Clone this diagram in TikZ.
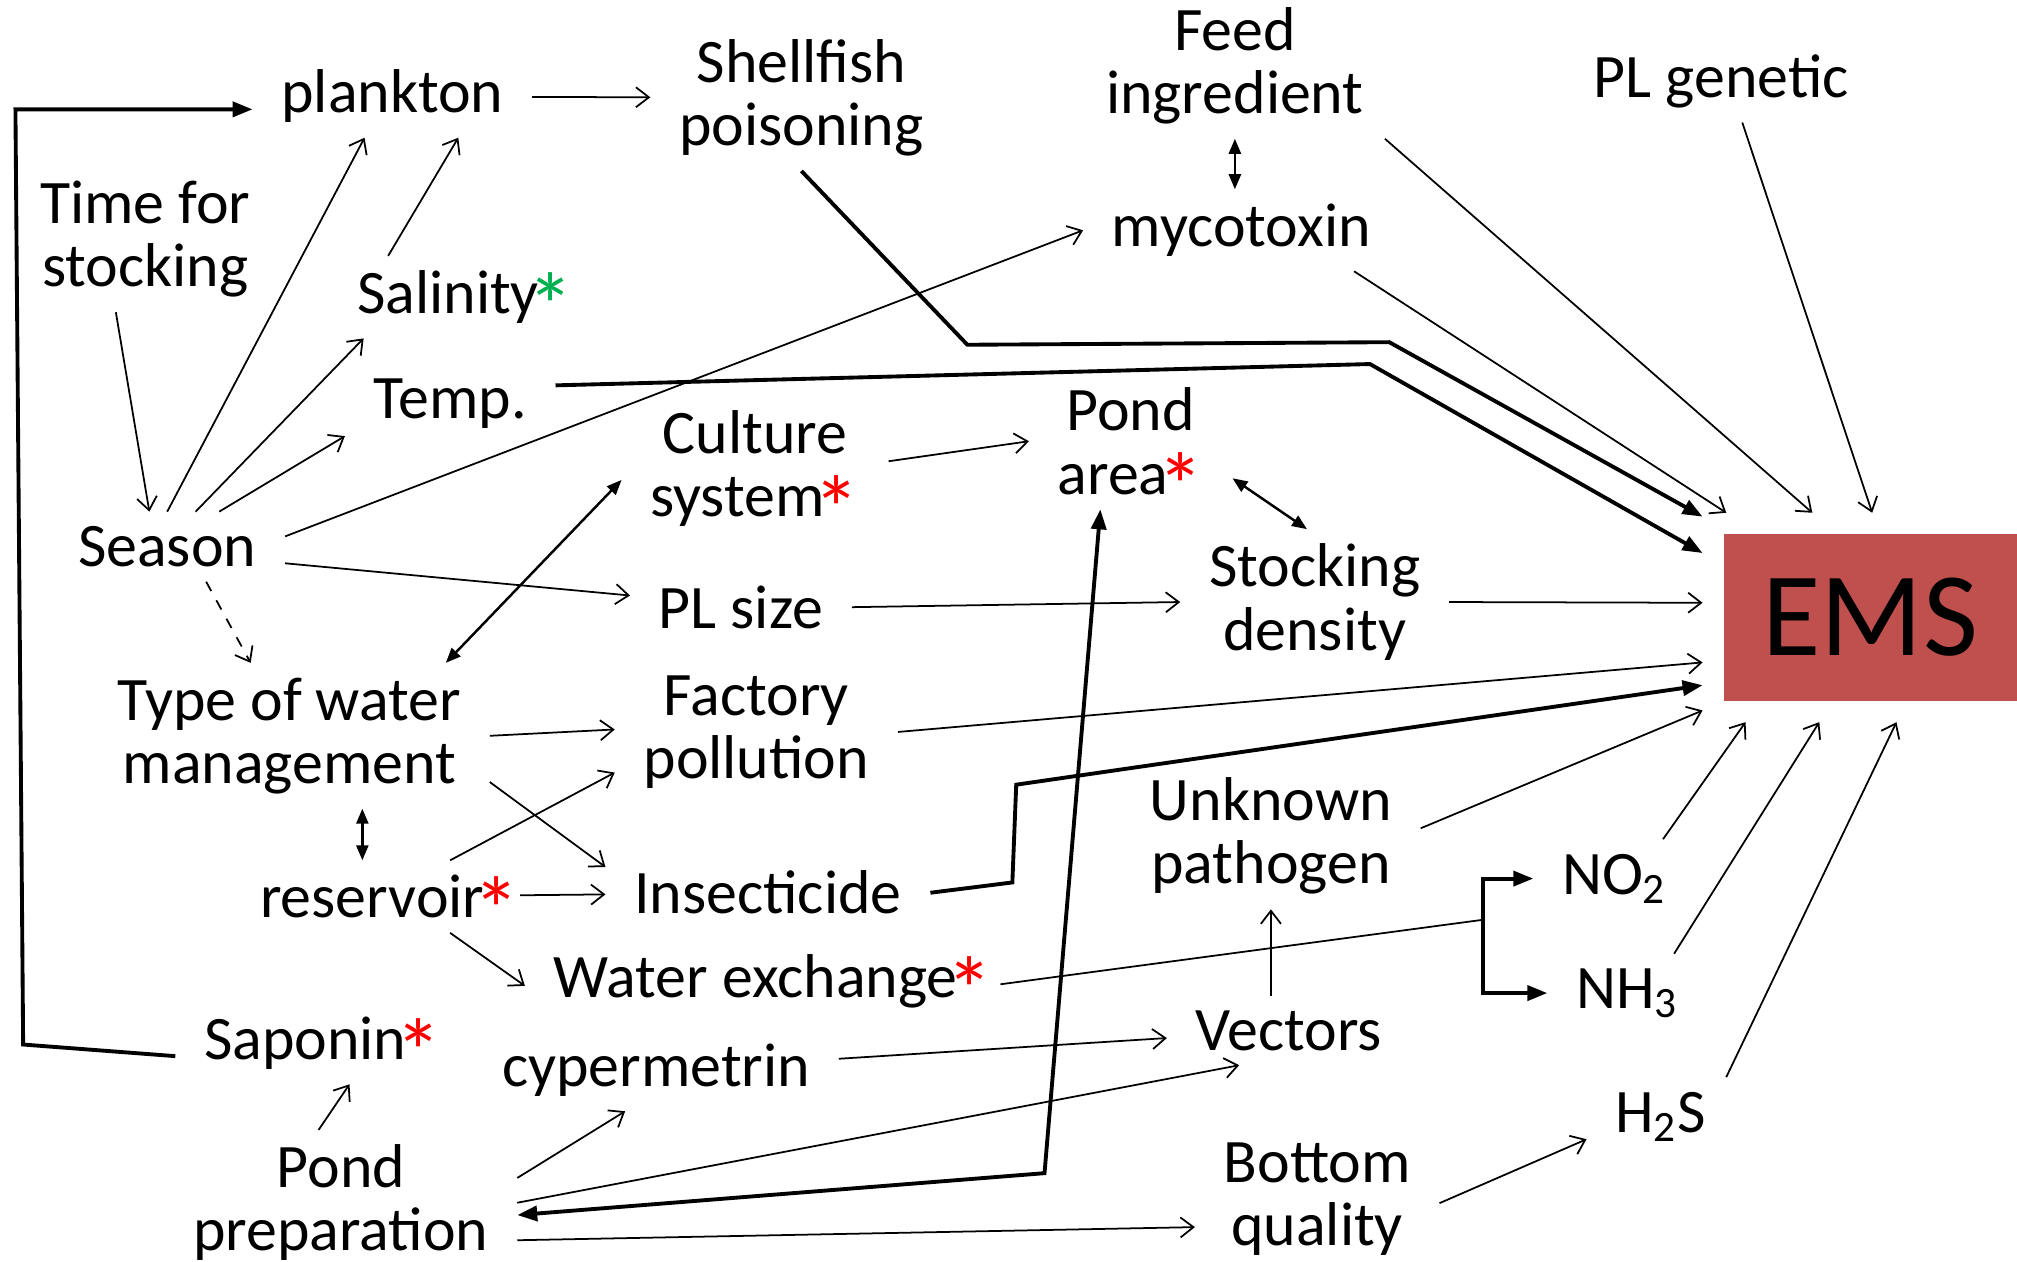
\documentclass[tikz,border=0pt]{standalone}
\usepackage{fontspec}
\usepackage{graphicx}
\setmainfont{Carlito}
\usetikzlibrary{arrows.meta,calc}
\definecolor{emsred}{HTML}{C0504D}
\definecolor{stargreen}{HTML}{00B050}
\newcommand{\starmark}{\kern-0.18em\raisebox{-0.4em}[0pt][0pt]{\scalebox{1.5}{*}}}
\newcommand{\rs}{\textcolor{red}{\starmark}}
\newcommand{\gs}{\textcolor{stargreen}{\starmark}}

\begin{document}
\begin{tikzpicture}[x=0.012864cm, y=-0.012864cm,
    every node/.style={font=\fontsize{17.6}{18}\selectfont, align=center, inner xsep=8pt, inner ysep=4pt},
    arr/.style={-{Straight Barb[length=1.3mm,width=2mm]}, line width=0.5pt},
    thickarr/.style={-{Triangle[length=2mm,width=1.5mm]}, line width=1.1pt},
    dblthick/.style={{Triangle[length=2mm,width=1.5mm]}-{Triangle[length=2mm,width=1.5mm]}, line width=1.1pt},
    dblarr/.style={{Triangle[length=1.5mm,width=1.2mm]}-{Triangle[length=1.5mm,width=1.2mm]}, line width=0.7pt}]
    \useasboundingbox (0,0) rectangle (1568,981);
    % factors
    \node (plankton) at (305,75) {plankton};
    \node (shell) at (623,76) {Shellfish\\poisoning};
    \node (feed) at (960,51) {Feed\\ingredient};
    \node (plgen) at (1338,63) {PL genetic};
    \node (time) at (113,186) {Time for\\stocking};
    \node (salin) at (362,231) {Salinity\gs};
    \node (myco) at (965,179) {mycotoxin};
    \node (temp) at (350,314) {Temp.};
    \node (culture) at (587,364) {Culture\\system\rs};
    \node (pondarea) at (879,343) {Pond\\area\rs};
    \node (season) at (130,425) {Season};
    \node (plsize) at (576,472) {PL size};
    \node (stockd) at (1022,468) {Stocking\\density};
    \node (typew) at (225,572) {Type of water\\management};
    \node (factory) at (588,569) {Factory\\pollution};
    \node (unknown) at (988,650) {Unknown\\pathogen};
    \node (reserv) at (303,697) {reservoir\rs};
    \node (insect) at (597,694) {Insecticide};
    \node (no2) at (1255,683) {NO\textsubscript{2}};
    \node (waterex) at (601,763) {Water exchange\rs};
    \node (nh3) at (1265,772) {NH\textsubscript{3}};
    \node (saponin) at (251,811) {Saponin\rs};
    \node (vectors) at (1002,801) {Vectors};
    \node (cyper) at (510,832) {cypermetrin};
    \node (h2s) at (1291,868) {H\textsubscript{2}S};
    \node (pondprep) at (265,935) {Pond\\preparation};
    \node (bottom) at (1024,932) {Bottom\\quality};
    \node [fill=emsred, minimum width=2.933cm, minimum height=1.672cm, inner sep=0pt, outer sep=6pt,
      font=\fontsize{34}{34}\selectfont] (ems) at (1454,480) {EMS};
    % thin arrows
    \draw [arr] (plankton) -- (shell);
    \draw [arr] (time.248) -- (season.117);
    \draw [arr] (season.90) -- (plankton.236);
    \draw [arr] (salin.152) -- (plankton.328);
    \draw [arr] (season.51) -- (salin.202);
    \draw [arr] (season.34) -- (temp.197);
    \draw [arr] (season.5) -- (myco.west);
    \draw [arr] (season.-8) -- (plsize.174);
    \draw [arr, dashed] (season.-42) -- (typew.118);
    \draw [arr] (culture.3) -- (pondarea.west);
    \draw [arr] (plsize.east) -- (stockd.west);
    \draw [arr] (stockd.east) -- (ems.175);
    \draw [arr] (factory.east) -- (ems.195);
    \draw [arr] (typew.east) -- (factory.179);
    \draw [arr] (typew.-13) -- (insect.171);
    \draw [arr] (reserv.31) -- (factory.196);
    \draw [arr, shorten <=-8pt] (reserv) -- (insect);
    \draw [arr] (reserv.-31) -- (waterex.181);
    \draw [arr] (pondprep.8) -- (cyper.233);
    \draw [arr] (pondprep.east) -- (vectors.215);
    \draw [arr] (pondprep.-12) -- (bottom.193);
    \draw [arr] (pondprep.107) -- (saponin.303);
    \draw [arr] (cyper) -- (vectors);
    \draw [arr] (vectors.north -| unknown.south) -- (unknown.south);
    \draw [arr] (unknown.3) -- (ems.209);
    \draw [arr] (no2.39) -- (ems.220);
    \draw [arr] (nh3.40) -- (ems.244);
    \draw [arr] (h2s.31) -- (ems.284);
    \draw [arr] (bottom.-2) -- (h2s.197);
    \draw [arr] (myco.-20) -- (ems.144);
    \draw [arr] (feed.-26) -- (ems.119);
    \draw [arr] (plgen.-63) -- (ems.89);
    % double arrows
    \draw [dblarr] (culture.185) -- (typew.25);
    \draw [dblarr] (pondarea.-20) -- (stockd.96);
    \draw [dblarr] (typew.-45.5) -- (typew.-45.5 |- reserv.north);
    \draw [dblarr] (feed.south) -- (feed.south |- myco.north);
    % thick connectors
    \draw [thickarr] (saponin.185) -- (18,812) -- (12,85) -- (12,85 -| plankton.west);
    \draw [thickarr] (shell.south) -- (752,268) -- (1080,266) -- (ems.149);
    \draw [thickarr] (temp.10) -- (1065,283) -- (ems.159);
    \draw [thickarr] (insect.east) -- (787,686) -- (790,610) -- (ems.202);
    \draw [dblthick] (pondprep.-4) -- (812,912) -- (pondarea.246);
    \coordinate (brk) at (1153,715);
    \draw [line width=0.5pt, shorten <=-6pt] (waterex.east) -- (brk);
    \draw [dblthick] (no2.west) -- (no2.west -| brk) -- (nh3.west -| brk) -- (nh3.west);
  \end{tikzpicture}
\end{document}
